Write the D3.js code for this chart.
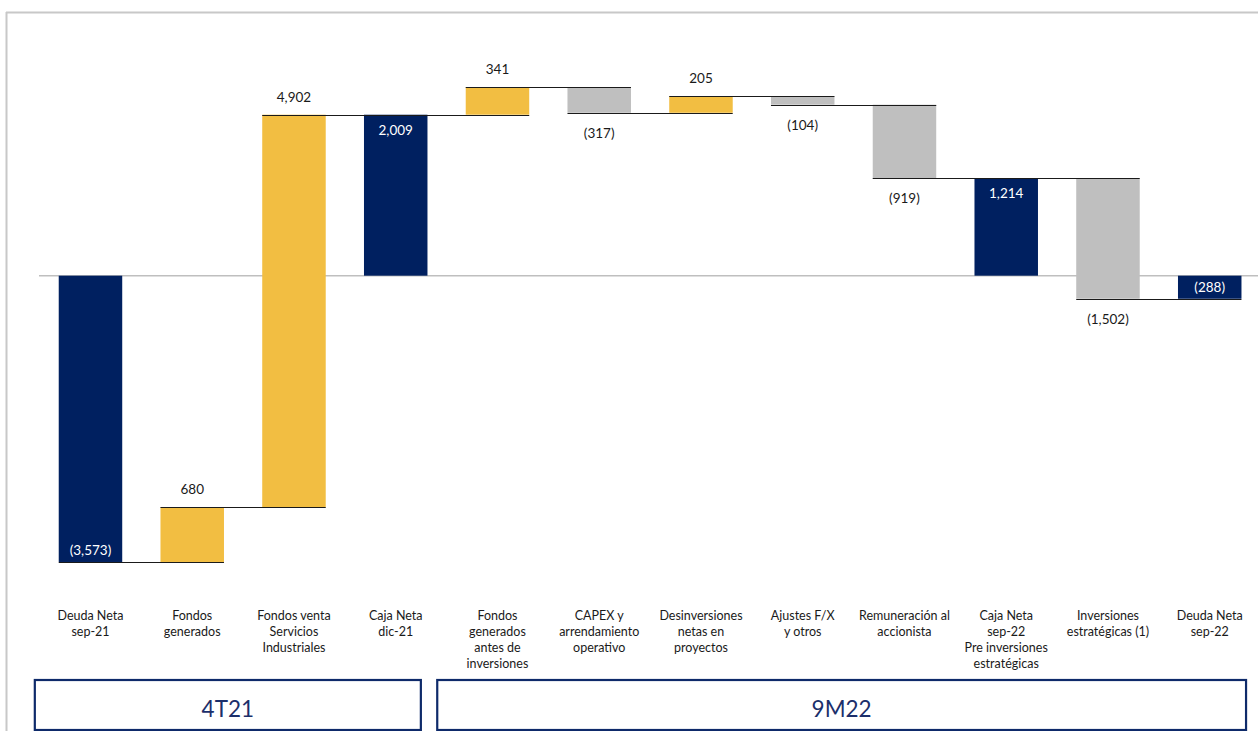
<!DOCTYPE html>
<html>
<head>
<meta charset="utf-8">
<script src="https://cdn.jsdelivr.net/npm/d3@7"></script>
<style>
  html, body { margin: 0; padding: 0; background: #fff; }
  svg { display: block; font-family: Lato, "Open Sans", sans-serif; }
</style>
</head>
<body>
<svg id="chart" width="1258" height="731"></svg>
<script>
// ---------- data ----------
const categories = [
  ["Deuda Neta", "sep-21"],
  ["Fondos", "generados"],
  ["Fondos venta", "Servicios", "Industriales"],
  ["Caja Neta", "dic-21"],
  ["Fondos", "generados", "antes de", "inversiones"],
  ["CAPEX y", "arrendamiento", "operativo"],
  ["Desinversiones", "netas en", "proyectos"],
  ["Ajustes F/X", "y otros"],
  ["Remuneración al", "accionista"],
  ["Caja Neta", "sep-22", "Pre inversiones", "estratégicas"],
  ["Inversiones", "estratégicas (1)"],
  ["Deuda Neta", "sep-22"]
];
const values = [-3573, 680, 4902, 2009, 341, -317, 205, -104, -919, 1214, -1502, -288];
const kinds  = ["total", "inc", "inc", "total", "inc", "dec", "inc", "dec", "dec", "total", "dec", "total"];
const groups = ["4T21", "9M22"];
const groupStart = [0, 4];
const groupEnd = [3, 11];

// ---------- styles ----------
const colors = { total: "#002060", inc: "#F2BE42", dec: "#BFBFBF" };
const textColor = "#1a1a1a";
const navyText = "#1c2f6b";

const svg = d3.select("#chart");

// frame
svg.append("line").attr("x1", 6.5).attr("x2", 6.5).attr("y1", 12).attr("y2", 731)
  .attr("stroke", "#c8c8c8").attr("stroke-width", 2);
svg.append("line").attr("x1", 6).attr("x2", 1258).attr("y1", 12.5).attr("y2", 12.5)
  .attr("stroke", "#c8c8c8").attr("stroke-width", 2);

// scales
const x = d3.scaleBand().domain(d3.range(categories.length))
  .range([39.6, 1260.6]).paddingInner(0.376).paddingOuter(0.188);
const y = d3.scaleLinear().domain([-4000, 3000]).range([596.2, 35.3]);
const bw = x.bandwidth();
const step = x.step();

// compute waterfall segments
let cum = 0;
const segs = values.map((v, i) => {
  let y0, y1;
  if (kinds[i] === "total") { y0 = 0; y1 = v; cum = v; }
  else { y0 = cum; y1 = cum + v; cum = y1; }
  return { i, v, kind: kinds[i], lo: Math.min(y0, y1), hi: Math.max(y0, y1), end: cum };
});

// zero line
svg.append("line").attr("x1", 39).attr("x2", 1258).attr("y1", y(0)).attr("y2", y(0))
  .attr("stroke", "#bfbfbf").attr("stroke-width", 1.5);

// bars
svg.append("g").selectAll("rect").data(segs).join("rect")
  .attr("x", d => x(d.i)).attr("width", bw)
  .attr("y", d => y(d.hi)).attr("height", d => y(d.lo) - y(d.hi))
  .attr("fill", d => colors[d.kind]);

// connector lines
svg.append("g").selectAll("line").data(segs.slice(0, -1)).join("line")
  .attr("x1", d => x(d.i)).attr("x2", d => x(d.i + 1) + bw)
  .attr("y1", d => Math.round(y(d.end)) + 0.5).attr("y2", d => Math.round(y(d.end)) + 0.5)
  .attr("stroke", "#1a1a1a").attr("stroke-width", 1);

// value labels
const fmt = v => v < 0 ? "(" + d3.format(",")(-v) + ")" : d3.format(",")(v);
svg.append("g").selectAll("text").data(segs).join("text")
  .attr("x", d => x(d.i) + bw / 2)
  .attr("y", d => {
    if (d.kind === "inc") return y(d.hi) - 18;
    if (d.kind === "dec") return y(d.lo) + 20;
    return d.v >= 0 ? y(d.hi) + 15 : y(d.lo) - 12;
  })
  .attr("text-anchor", "middle").attr("dominant-baseline", "central")
  .attr("font-size", 13.5)
  .attr("fill", d => d.kind === "total" ? "#ffffff" : textColor)
  .text(d => fmt(d.v));

// category labels
const catG = svg.append("g");
categories.forEach((lines, i) => {
  const t = catG.append("text").attr("text-anchor", "middle")
    .attr("font-size", 12.5).attr("fill", textColor);
  lines.forEach((ln, k) => {
    t.append("tspan").attr("x", x(i) + bw / 2).attr("y", 615 + k * 16.3)
      .attr("dominant-baseline", "central").text(ln);
  });
});

// group boxes
const boxLeftOff = [-0.235, -0.28];
const boxRightOff = [-0.065, 0.045];
groups.forEach((g, k) => {
  const x0 = x(groupStart[k]) + boxLeftOff[k] * step;
  const x1 = x(groupEnd[k]) + bw + boxRightOff[k] * step;
  svg.append("rect").attr("x", x0).attr("y", 680).attr("width", x1 - x0).attr("height", 50)
    .attr("fill", "none").attr("stroke", "#0e2a6a").attr("stroke-width", 2.2);
  svg.append("text").attr("x", (x0 + x1) / 2).attr("y", 708)
    .attr("text-anchor", "middle").attr("dominant-baseline", "central")
    .attr("font-size", 22.5).attr("fill", navyText).text(g);
});
</script>
</body>
</html>
